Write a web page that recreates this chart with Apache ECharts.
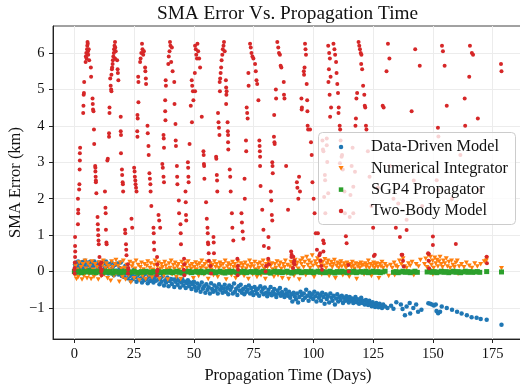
<!DOCTYPE html>
<html>
<head>
<meta charset="utf-8">
<script src="https://cdn.jsdelivr.net/npm/echarts@6/dist/echarts.min.js"></script>
<style>html,body{margin:0;padding:0;background:#fff;}#c{width:520px;height:390px;}</style>
</head>
<body>
<div id="c"></div>
<script>
const chartTitle = 'SMA Error Vs. Propagation Time';
const xName = 'Propagation Time (Days)';
const yName = 'SMA Error (km)';
const seriesNames = ['Data-Driven Model', 'Numerical Integrator', 'SGP4 Propagator', 'Two-Body Model'];
const xTicks = [0, 25, 50, 75, 100, 125, 150, 175];
const yTicks = [-1, 0, 1, 2, 3, 4, 5, 6];

const dataDriven = [
[0.1,0.05],[0.3,0.2],[0.5,0.12],[0.8,0.25],[1.0,0.02],[1.3,0.18],[1.6,0.28],[1.9,0.1],[2.2,0.22],[2.6,-0.02],[3.0,0.15],[3.3,0.26],[3.7,0.08],[4.1,0.2],[4.5,0.3],[4.9,0.12],[5.3,0.24],[5.8,0.05],[6.2,0.18],[6.6,0.27],[7.0,0.1],[7.5,0.22],[8.0,0.15],[8.4,0.28],[8.9,0.03],[9.3,0.2],[9.8,0.12],
[10.3,0.25],[10.8,0.08],[11.3,0.18],[11.8,-0.02],[12.3,0.22],[12.8,0.1],[13.2,0.28],[13.7,0.15],[14.2,-0.05],[14.6,0.2],[15.1,0.05],[15.6,0.24],[16.0,0.12],[16.5,-0.1],[17.0,0.18],[17.5,0.02],[18.0,0.22],[18.4,-0.08],[18.9,0.1],[19.4,0.25],[19.8,-0.12],[20.3,0.05],[20.8,-0.15],[21.3,0.15],[21.7,-0.05],
[22.2,-0.18],[22.7,0.02],[23.2,-0.12],[23.6,-0.25],[24.1,-0.08],[24.6,-0.2],[25.0,0.05],[25.5,-0.15],[26.0,-0.28],[26.4,-0.1],[26.9,-0.22],[27.4,-0.02],[27.9,-0.18],[28.3,-0.3],[28.8,-0.12],[29.3,-0.24],[29.8,-0.06],[30.2,-0.2],[30.7,-0.32],[31.2,-0.14],[31.7,-0.26],[32.1,-0.08],[32.6,-0.2],[33.1,-0.3],[33.6,-0.15],[34.1,-0.25],
[34.6,-0.1],[35.1,-0.22],[35.6,-0.35],[36.0,-0.18],[36.5,-0.28],[37.0,-0.12],[37.5,-0.38],[38.0,-0.24],[38.4,-0.3],[38.9,-0.16],[39.4,-0.4],[39.9,-0.26],[40.3,-0.2],[40.8,-0.34],[41.3,-0.22],[41.8,-0.42],[42.3,-0.28],[42.7,-0.18],[43.2,-0.36],[43.7,-0.25],[44.2,-0.44],[44.7,-0.3],[45.1,-0.2],[45.6,-0.38],[46.1,-0.27],[46.6,-0.45],[47.1,-0.32],[47.5,-0.24],[48.0,-0.4],[48.5,-0.3],[49.0,-0.48],[49.5,-0.35],
[50.0,-0.28],[50.4,-0.42],[50.9,-0.52],[51.4,-0.33],[51.9,-0.45],[52.4,-0.38],[52.8,-0.55],[53.3,-0.3],[53.8,-0.47],[54.3,-0.4],[54.8,-0.58],[55.2,-0.35],[55.7,-0.5],[56.2,-0.43],[56.7,-0.6],[57.2,-0.32],[57.6,-0.48],[58.1,-0.55],[58.6,-0.38],[59.1,-0.52],[59.6,-0.44],[60.0,-0.6],[60.5,-0.35],[61.0,-0.5],[61.5,-0.42],[62.0,-0.58],[62.4,-0.47],[62.9,-0.36],[63.4,-0.55],
[63.9,-0.45],[64.4,-0.62],[64.8,-0.38],[65.3,-0.5],[65.8,-0.42],[66.3,-0.6],[66.8,-0.33],[67.2,-0.55],[67.7,-0.47],[68.2,-0.64],[68.7,-0.4],[69.2,-0.52],[69.6,-0.36],[70.1,-0.58],[70.6,-0.48],[71.1,-0.62],[71.6,-0.42],[72.0,-0.55],[72.5,-0.5],[73.0,-0.38],[73.5,-0.6],[74.0,-0.45],[74.4,-0.56],[74.9,-0.64],[75.4,-0.42],[75.9,-0.52],[76.4,-0.6],[76.8,-0.47],[77.3,-0.66],[77.8,-0.4],
[78.3,-0.55],[78.8,-0.48],[79.2,-0.62],[79.7,-0.44],[80.2,-0.58],[80.7,-0.68],[81.2,-0.5],[81.6,-0.6],[82.1,-0.42],[82.6,-0.65],[83.1,-0.55],[83.6,-0.48],[84.0,-0.62],[84.5,-0.7],[85.0,-0.52],[85.5,-0.6],[86.0,-0.45],[86.4,-0.66],[86.9,-0.56],[87.4,-0.62],[87.9,-0.7],[88.4,-0.5],[88.8,-0.6],[89.3,-0.66],
[89.8,-0.55],[90.3,-0.72],[90.8,-0.62],[91.2,-0.82],[91.7,-0.58],[92.2,-0.68],[92.7,-0.76],[93.2,-0.6],[93.6,-0.85],[94.1,-0.7],[94.6,-0.55],[95.1,-0.64],[95.6,-0.78],[96.0,-0.6],[96.5,-0.72],[97.0,-0.5],[97.5,-0.66],[98.0,-0.8],[98.4,-0.58],[98.9,-0.7],[99.4,-0.62],[99.9,-0.75],[100.4,-0.55],[100.8,-0.68],[101.3,-0.82],[101.8,-0.6],[102.3,-0.72],
[102.8,-0.65],[103.2,-0.8],[103.7,-0.58],[104.2,-0.7],[104.7,-0.88],[105.2,-0.62],[105.6,-0.75],[106.1,-0.68],[106.6,-0.85],[107.1,-0.6],[107.6,-0.72],[108.0,-0.8],[108.5,-0.66],[109.0,-0.9],[109.5,-0.74],[110.0,-0.62],[110.4,-0.82],[110.9,-0.7],[111.4,-0.78],[111.9,-0.66],[112.4,-0.86],[112.8,-0.72],[113.3,-0.8],[113.8,-0.68],[114.3,-0.76],[114.8,-0.85],[115.2,-0.7],[115.7,-0.8],[116.2,-0.74],[116.7,-0.86],[117.2,-0.78],[117.6,-0.7],[118.1,-0.84],[118.6,-0.76],[119.1,-0.88],[119.6,-0.8],[120.0,-0.72],[120.5,-0.86],[121.0,-0.8],[121.5,-0.9],
[122.0,-0.78],[122.4,-0.85],[122.9,-0.92],[123.4,-0.8],[123.9,-0.88],[124.4,-0.95],[124.8,-0.84],[125.3,-0.9],[125.8,-0.97],[126.3,-0.86],[126.8,-0.93],[127.2,-0.98],[127.7,-0.88],[128.2,-0.95],[128.7,-1.0],[129.2,-0.9],[130.0,-0.96],[131.0,-1.0],[132.5,-0.94],[133.5,-1.02],
[134.7,-0.84],[136.6,-0.9],[137.3,-1.03],[138.3,-1.2],[139.0,-0.96],[140.3,-0.86],[140.5,-1.15],[141.8,-1.0],[143.0,-0.9],[143.8,-1.1],[145.2,-1.05],
[148.1,-0.87],[148.9,-0.88],[149.6,-0.9],[150.4,-0.93],[151.2,-0.9],[151.5,-1.08],[152.2,-1.14],[153.0,-1.1],[153.7,-0.96],[155.8,-1.0],[158.0,-1.05],[160.1,-1.1],[162.0,-1.15],[164.2,-1.2],[166.2,-1.25],[168.3,-1.27],[170.0,-1.3],[172.5,-1.32],[178.7,-1.46]
];

const numerical = [
[0.2,-0.1],[0.5,0.15],[0.9,-0.2],[1.2,0.05],[1.6,-0.15],[2.0,0.25],[2.4,-0.05],[2.8,0.12],[3.2,-0.22],[3.6,0.2],[4.0,-0.12],[4.5,0.3],[4.9,0.08],[5.3,-0.18],[5.7,0.22],[6.1,-0.08],[6.5,0.15],[7.0,-0.2],[7.4,0.28],[7.8,0.05],[8.2,-0.14],[8.7,0.2],[9.1,-0.06],[9.5,0.12],[10.0,-0.22],[10.4,0.25],[10.8,0.02],[11.3,-0.12],[11.7,0.18],[12.1,0.3],[12.6,-0.08],[13.0,0.1],[13.4,0.22],[13.9,-0.18],[14.3,0.15],
[14.8,0.05],[15.2,-0.25],[15.6,0.28],[16.1,0.12],[16.5,-0.12],[17.0,0.2],[17.4,0.32],[17.9,-0.05],[18.3,0.15],[18.8,-0.28],[19.2,0.24],[19.6,0.08],[20.1,-0.15],[20.5,0.3],[21.0,0.1],[21.4,-0.22],[21.9,0.18],[22.3,0.04],[22.7,-0.1],[23.2,0.26],[23.6,-0.3],[24.1,0.14],[24.5,0.22],[25.0,-0.18],[25.4,0.08],[25.8,0.3],[26.3,-0.08],[26.7,0.18],[27.2,-0.24],[27.6,0.12],[28.1,0.24],[28.5,-0.12],[28.9,0.06],[29.4,0.2],
[29.8,-0.2],[30.3,0.15],[30.7,0.28],[31.2,-0.1],[31.6,0.1],[32.0,0.22],[32.5,-0.16],[32.9,0.05],[33.4,0.18],[33.8,0.3],[34.3,-0.06],[34.7,0.14],[35.2,0.24],[35.6,-0.2],[36.0,0.08],[36.5,0.2],[36.9,0.12],[37.4,-0.12],[37.8,0.26],[38.3,0.16],[38.7,0.06],[39.1,-0.22],[39.6,0.22],[40.0,0.1],[40.5,0.3],[40.9,-0.08],[41.4,0.18],[41.8,0.08],[42.2,0.24],[42.7,-0.15],[43.1,0.14],[43.6,0.2],[44.0,0.05],[44.5,-0.2],[44.9,0.26],[45.3,0.12],[45.8,0.18],[46.2,-0.1],[46.7,0.22],[47.1,0.1],[47.6,0.28],[48.0,-0.05],[48.4,0.16],[48.9,0.08],[49.3,0.2],[49.8,-0.18],[50.2,0.12],[50.7,0.25],[51.1,0.06],[51.5,0.18],[52.0,-0.12],[52.4,0.22],[52.9,0.1],[53.3,0.3],[53.8,0.14],[54.2,-0.08],[54.6,0.2],[55.1,0.08],[55.5,0.26],[56.0,-0.2],[56.4,0.14],[56.9,0.22],[57.3,0.05],[57.8,0.18],[58.2,-0.1],[58.6,0.28],[59.1,0.12],
[59.5,0.2],[60.0,-0.15],[60.4,0.1],[60.9,0.24],[61.3,0.16],[61.7,-0.05],[62.2,0.2],[62.6,0.08],[63.1,0.3],[63.5,-0.22],[64.0,0.14],[64.4,0.22],[64.8,0.06],[65.3,0.18],[65.7,-0.1],[66.2,0.26],[66.6,0.12],[67.1,0.2],[67.5,-0.18],[67.9,0.1],[68.4,0.28],[68.8,0.15],[69.3,-0.06],[69.7,0.22],[70.2,0.1],[70.6,0.18],[71.0,-0.12],[71.5,0.24],[71.9,0.08],[72.4,0.16],[72.8,-0.2],[73.3,0.3],[73.7,0.12],[74.1,0.2],[74.6,-0.08],[75.0,0.14],[75.5,0.26],[75.9,0.06],[76.4,-0.15],[76.8,0.2],[77.2,0.1],[77.7,0.24],[78.1,-0.1],[78.6,0.16],[79.0,0.3],[79.5,0.08],[79.9,-0.2],[80.3,0.2],[80.8,0.12],[81.2,0.26],[81.7,-0.05],[82.1,0.15],[82.6,0.22],[83.0,0.06],[83.5,-0.14],[83.9,0.2],[84.3,0.1],[84.8,0.28],[85.2,-0.1],[85.7,0.16],[86.1,0.24],[86.6,0.08],[87.0,-0.18],[87.4,0.2],[87.9,0.12],[88.3,0.3],[88.8,-0.06],[89.2,0.18],
[89.7,-0.2],[90.1,0.14],[90.6,0.26],[91.0,0.1],[91.5,0.2],[91.9,-0.12],[92.4,0.32],[92.8,0.16],[93.3,0.24],[93.7,0.08],[94.1,-0.22],[94.6,0.3],[95.0,0.2],[95.5,0.36],[95.9,0.12],[96.4,0.26],[96.8,-0.1],[97.2,0.4],[97.7,0.18],[98.1,0.3],[98.6,0.1],[99.0,0.24],[99.5,0.44],[99.9,0.16],[100.3,-0.15],[100.8,0.28],[101.2,0.2],[101.7,0.36],[102.1,0.12],[102.6,0.3],[103.0,0.22],[103.5,-0.08],[103.9,0.26],[104.4,0.16],[104.8,0.34],[105.3,0.1],[105.7,0.22],[106.1,0.3],[106.6,-0.12],[107.0,0.18],[107.5,0.26],[107.9,0.12],[108.4,0.2],[108.8,0.32],[109.2,-0.18],[109.7,0.16],[110.1,0.24],[110.6,0.1],[111.0,0.2],[111.5,0.28],[111.9,0.14],[112.3,-0.1],[112.8,0.22],[113.2,0.16],[113.7,0.1],[114.1,0.24],[114.6,0.18],[115.0,-0.14],[115.5,0.2],[115.9,0.12],[116.3,0.26],[116.8,0.16],[117.2,0.08],[117.7,0.22],[118.1,-0.2],[118.6,0.14],[119.0,0.2],[119.4,0.1],[119.9,0.24],[120.3,0.16],[120.8,0.18],[121.2,-0.08],[121.7,0.22],[122.1,0.12],[122.5,0.18],[123.0,0.3],[123.4,0.1],[123.9,0.2],[124.3,-0.12],[124.8,0.16],[125.2,0.24],[125.6,0.1],[126.1,0.18],[126.5,0.22],[127.0,0.12],[127.4,-0.18],[127.8,0.2],[128.3,0.14],[128.7,0.26],[129.2,0.1],
[130.0,0.2],[130.8,0.14],[131.5,-0.12],[132.3,0.18],[133.0,0.1],[133.8,0.24],[134.0,-0.1],[134.5,0.16],[135.2,0.12],[136.0,0.3],[136.8,0.2],[137.5,0.36],[138.2,0.14],[139.0,0.1],[139.8,0.22],[140.5,0.16],[141.3,0.26],[142.0,-0.1],[143.0,0.2],[144.0,0.14],[144.8,0.32],
[146.5,0.2],[147.0,0.35],[147.5,0.12],[148.0,0.45],[148.5,0.26],[149.0,0.4],[149.4,0.18],[149.9,0.3],[150.0,-0.08],[150.3,0.1],[150.8,0.38],[151.2,0.22],[151.7,0.32],[152.1,0.14],[152.6,0.28],[153.0,0.4],[153.5,0.2],[154.0,0.12],[154.4,0.3],[155.0,0.22],[155.6,0.36],[156.1,0.14],[156.7,0.26],[157.2,0.1],[157.8,0.3],[158.4,0.18],[159.0,0.12],[159.6,0.24],[160.2,0.3],[160.5,-0.06],[161.0,0.14],
[162.0,0.2],[163.0,0.12],[164.0,0.24],[165.2,0.16],[166.3,0.1],[167.5,0.22],[168.6,0.14],[170.0,0.2],[171.5,0.28],[172.3,0.3],[172.5,0.36],[178.7,0.09]
];

const sgp4 = [
[0,0],[1,-0.02],[2,0.01],[3,-0.03],[4,0],[5,-0.01],[6,0.02],[7,-0.02],[8,0],[9,-0.03],[10,0.01],[11,-0.01],[12,-0.03],[13,0.01],[14,-0.02],[15,0],[16,-0.04],[17,0.01],[18,-0.01],[19,-0.03],[20,0],[21,-0.02],[22,0.01],[23,-0.03],[24,-0.01],[25,0.01],[26,-0.02],[27,-0.04],[28,0],[29,-0.02],[30,0.01],[31,-0.01],[32,-0.03],[33,0],[34,-0.02],[35,0.01],[36,-0.03],[37,-0.01],[38,0],[39,-0.02],[40,0.01],[41,-0.03],[42,-0.01],[43,0.01],[44,-0.02],[45,-0.04],[46,0],[47,-0.01],[48,0.01],[49,-0.03],[50,-0.01],[51,0],[52,-0.02],[53,0.01],[54,-0.03],[55,-0.01],[56,0.01],[57,-0.02],[58,0],[59,-0.03],[60,-0.01],[61,0.01],[62,-0.02],[63,-0.04],[64,0],[65,-0.02],[66,0.01],[67,-0.01],[68,-0.03],[69,0],[70,-0.02],[71,0.01],[72,-0.03],[73,-0.01],[74,0],[75,-0.02],[76,0.01],[77,-0.03],[78,-0.01],[79,0.01],[80,-0.02],[81,0],[82,-0.04],[83,-0.01],[84,0.01],[85,-0.02],[86,0],[87,-0.03],[88,-0.01],[89,0.01],[90,-0.02],[91,-0.04],[92,0],[93,-0.01],[94,0.01],[95,-0.03],[96,-0.01],[97,0],[98,-0.02],[99,0.01],[100,-0.03],[101,-0.01],[102,0.01],[103,-0.02],[104,0],[105,-0.03],[106,-0.01],[107,0.01],[108,-0.02],[109,-0.04],[110,0],[111,-0.02],[112,0.01],[113,-0.01],[114,-0.03],[115,0],[116,-0.02],[117,0.01],[118,-0.03],[119,-0.01],[120,0],[121,-0.02],[122,0.01],[123,-0.03],[124,-0.01],[125,0.01],[126,-0.02],[127,0],[128,-0.03],[129,-0.01],[130,0.01],
[133.5,-0.02],[134.5,0],[135.5,-0.03],[136.5,-0.01],[137.5,0.01],[138.5,-0.02],[139.5,0],[140.5,-0.03],[141.5,-0.01],[142.5,0.01],[143.5,-0.02],
[147.6,-0.01],[148.6,0.01],[149.6,-0.02],[150.6,0],[151.6,-0.03],[152.6,-0.01],[153.6,0.01],[154.6,-0.02],[155.6,0],[156.6,-0.03],[157.6,-0.01],[158.6,0.01],[159.6,-0.02],[160.6,0],[161.6,-0.03],[162.6,-0.01],[163.6,0.01],[164.6,-0.02],[165.6,0],[166.6,-0.02],[167.6,-0.01],[168.6,0],[169.6,-0.02],[172.5,0],[178.7,-0.01]
];

const twoBody = [
[0.1,0.1],[0.2,0.25],[0.3,0.4],[0.35,0.55],[0.3,0.7],[0.3,0.95],[1.5,1.3],[1.6,1.6],[1.6,1.7],[1.5,2.0],[2.0,2.25],[2.1,2.4],[2.2,2.8],[2.3,3.05],[2.3,3.25],[2.4,3.4],[3.7,4.35],[3.8,4.55],[3.9,4.85],[4.0,4.9],[4.1,5.2],[4.7,5.75],[4.8,5.9],[5.0,6.0],[5.1,5.85],[5.3,6.1],[5.4,6.2],[5.5,6.3],[5.6,6.25],[5.7,6.05],[5.8,5.95],[6.0,6.1],[6.2,5.8],[6.9,5.6],[7.0,5.35],[7.6,4.75],[7.7,4.6],[7.8,4.45],[8.0,4.4],[8.2,3.9],[8.3,3.5],[8.7,2.9],[8.8,2.85],[8.8,2.75],[8.9,2.6],[9.0,2.5],[9.0,2.45],[9.2,2.15],[9.7,1.5],[9.8,1.3],[9.9,1.15],[10.0,1.0],[10.1,0.85],[10.2,0.75],[10.5,0.4],[10.7,0.2],[11.0,0.1],
[11.3,0.25],[11.5,0.05],[12.8,2.2],[13.0,1.75],[13.1,1.6],[13.2,1.15],[13.4,0.8],[13.5,0.75],[13.8,3.05],[14.0,3.1],[14.5,3.8],[14.5,3.7],[14.7,4.5],[14.7,4.35],[15.0,5.3],[15.2,5.1],[15.4,5.0],[15.5,4.95],[15.5,5.4],[15.7,5.55],[15.8,5.6],[16.0,5.7],[16.1,5.8],[16.3,5.9],[16.5,6.0],[16.6,6.1],[16.8,6.2],[17.0,6.3],[17.1,6.15],[17.3,6.05],[17.0,5.85],[17.9,5.8],[18.1,5.55],[18.2,5.45],[18.4,5.25],[19.4,4.25],[19.4,3.85],[19.5,3.75],[19.5,3.25],[19.9,2.8],[20.0,2.65],[20.2,2.45],[20.3,2.4],[20.4,2.2],[21.2,1.15],[21.3,1.05],[21.6,0.75],[21.7,0.6],[21.8,0.45],[22.4,0.2],[22.5,0.05],
[23.9,1.45],[24.2,1.2],[25.0,2.85],[25.2,2.75],[25.3,2.6],[25.5,2.5],[25.6,2.4],[25.8,2.3],[26.0,2.2],[26.3,3.85],[26.4,3.7],[26.4,4.3],[26.5,4.2],[26.7,5.35],[26.8,5.2],[26.8,4.65],[27.5,5.75],[27.7,5.85],[28.0,6.0],[28.3,6.25],[28.5,6.1],[28.8,5.95],[29.1,6.05],[29.6,5.6],[29.7,5.5],[29.9,5.3],[30.0,5.15],[30.6,4.0],[30.7,3.8],[31.0,3.45],[31.1,3.2],[31.4,2.7],[31.6,2.55],[31.8,2.4],[31.9,2.2],[32.2,1.8],[33.1,1.2],[33.2,1.05],[33.3,0.8],[33.4,0.6],[34.6,0.4],[34.7,0.2],[34.8,0.05],
[35.2,1.55],[35.5,1.4],[35.9,1.2],[36.8,2.95],[37.0,2.85],[37.3,2.6],[37.5,2.45],[37.3,3.75],[37.4,3.65],[37.5,3.4],[38.0,4.7],[38.0,4.4],[38.1,4.15],[38.2,5.25],[38.3,5.1],[39.3,5.7],[39.5,5.9],[39.8,6.05],[40.0,6.3],[40.2,6.2],[40.5,5.75],[40.8,6.15],[41.1,5.5],[41.8,5.2],[41.9,4.6],[42.3,4.05],[42.4,3.6],[42.5,3.45],[42.9,2.9],[43.0,2.6],[43.1,2.4],[43.7,1.95],[43.8,1.6],[44.4,1.3],[44.5,1.05],[44.6,0.75],[45.9,0.35],[46.0,0.2],
[46.5,2.2],[46.6,1.9],[46.7,1.55],[46.8,1.4],[47.5,3.0],[47.6,2.85],[47.7,2.6],[47.8,2.45],[48.2,3.5],[48.7,4.55],[49.2,4.1],[49.1,5.25],[49.3,5.1],[49.6,4.95],[49.8,4.7],[50.5,6.2],[50.8,6.1],[51.0,5.95],[51.3,5.85],[51.5,6.25],[51.8,6.05],[52.2,5.85],[52.6,5.6],[50.4,5.45],[50.5,4.95],[53.3,4.25],[54.0,3.3],[54.1,3.2],[54.2,2.95],[54.3,2.9],[54.4,2.55],[55.1,1.9],[55.4,1.45],[55.7,1.2],[55.8,1.05],[55.9,0.8],[56.0,0.75],[56.2,0.5],[56.3,0.3],[58.2,0.95],[58.3,0.8],[58.4,0.5],
[59.3,3.15],[59.4,3.1],[59.6,2.65],[59.7,2.5],[59.8,2.2],[60.1,4.35],[60.3,4.1],[60.5,3.95],[60.7,3.75],[60.8,5.2],[60.9,4.95],[61.0,5.3],[61.2,5.45],[61.4,5.6],[61.6,5.8],[61.9,5.95],[62.1,6.1],[62.4,6.2],[62.6,6.3],[62.9,6.05],[63.4,5.25],[63.5,5.05],[63.6,4.85],[63.5,4.6],[63.7,4.95],[64.1,4.1],[64.2,3.85],[64.3,3.75],[64.3,3.55],[64.4,3.35],[65.0,2.8],[65.2,2.6],[65.4,2.2],[65.9,1.6],[66.1,1.2],[66.5,0.85],[68.2,0.35],[68.4,0.15],
[69.9,1.6],[70.1,1.35],[70.4,1.1],[70.7,0.9],[71.2,2.55],[71.3,2.0],[71.8,3.6],[71.9,3.3],[72.1,4.5],[72.3,4.35],[72.5,4.2],[72.8,5.45],[72.9,5.1],[73.5,6.25],[73.8,6.15],[74.1,6.0],[74.5,5.9],[74.9,5.85],[75.6,5.7],[75.9,5.5],[76.2,5.25],[76.5,5.15],[77.0,4.7],[77.4,3.6],[77.5,3.45],[77.6,3.3],[77.7,3.15],[77.7,2.9],[77.9,2.35],[78.6,1.7],[79.1,1.15],[79.3,0.7],[81.2,0.95],[81.3,0.65],[81.1,0.35],[81.4,0.2],
[82.2,2.2],[82.4,1.95],[82.6,1.55],[82.8,1.4],[82.8,3.0],[82.9,2.9],[83.0,2.7],[83.6,4.3],[83.5,3.7],[83.7,3.55],[83.8,3.5],[84.3,5.0],[84.4,4.75],[84.9,6.3],[85.3,6.15],[85.6,6.0],[86.0,5.95],[86.3,5.65],[86.6,5.6],[87.6,5.2],[87.7,4.85],[87.9,4.75],[88.6,2.9],[89.4,1.7],[90.7,0.55],[90.8,0.4],[90.9,0.46],[92.0,0.3],[92.1,0.2],
[93.1,2.45],[93.3,2.3],[93.7,2.0],[94.0,2.6],[94.4,2.2],[95.0,4.75],[95.1,4.45],[95.2,4.5],[96.0,5.5],[96.1,5.4],[96.3,5.6],[96.5,6.25],[96.7,6.1],[96.9,5.95],[97.2,5.15],[97.5,4.4],[97.6,4.0],[97.8,3.9],[97.4,4.7],[98.6,3.9],[99.0,3.55],[99.3,3.2],[99.6,2.45],[100.1,2.0],[100.5,1.6],[101.0,1.05],[101.5,0.6],[101.9,1.05],[104.1,0.85],[104.2,0.55],[104.4,0.78],[102.8,0.5],
[103.8,3.6],[104.0,3.35],[104.2,3.3],[104.8,2.65],[104.5,2.05],[105.0,1.6],[105.6,3.65],[105.6,3.47],[105.8,3.01],[104.9,2.51],[106.2,2.15],[106.2,6.2],[106.6,6.0],[106.9,5.85],[106.5,5.55],[107.2,5.35],[106.3,5.2],[106.8,4.85],[107.4,4.5],[107.0,4.25],[108.4,6.25],[108.8,6.1],[109.1,5.95],[109.5,5.75],[109.7,5.45],[110.0,5.15],[110.3,4.9],[110.6,4.5],[110.5,4.35],[111.0,4.0],[111.2,3.9],[111.4,3.6],[111.8,3.15],[111.1,2.97],[112.0,3.2],[112.3,2.8],[113.0,2.2],[113.2,1.6],[113.6,0.97],[113.9,0.78],
[115.2,1.5],[115.5,2.1],[116.0,2.9],[116.4,3.4],[117.4,2.74],[116.7,2.33],[116.7,1.6],[117.6,4.0],[117.8,4.2],[118.0,4.75],[118.3,4.9],[118.9,6.3],[119.2,6.2],[119.5,6.1],[119.8,6.0],[120.1,5.95],[120.0,5.7],[120.4,5.55],[120.8,5.1],[121.3,4.85],[121.5,4.55],[121.7,4.5],[122.0,4.0],[122.2,3.9],[122.8,3.3],[123.5,2.6],[124.3,1.8],[125.0,1.2],[125.3,0.43],
[127.0,2.3],[129.0,4.55],[129.4,4.5],[130.6,5.5],[131.2,6.25],[131.8,5.85],[132.0,2.9],[133.5,2.0],[134.5,1.2],[135.5,1.87],[136.2,0.95],[136.9,0.46],[139.0,1.14],[139.0,1.42],
[141.1,4.4],[142.6,6.1],[144.5,5.65],[142.0,2.5],[145.5,1.8],[148.3,0.48],[150.0,0.96],[150.0,0.73],[151.6,2.51],[152.2,2.24],[152.1,3.95],[152.3,3.71],[153.8,6.2],[154.2,6.05],[154.9,5.65],[155.8,4.55],[158.0,2.0],[159.6,0.76],
[161.5,3.2],[163.3,4.75],[163.5,4.0],[165.2,5.35],[165.5,6.2],[166.3,6.0],[166.8,5.95],[168.8,4.2],[169.7,2.24],[172.5,0.41],[178.5,5.7],[178.7,5.5],
[0.0,0.05],[0.1,-0.05],[11.2,0.0],[11.4,-0.1],[22.4,-0.05],[22.6,0.1],[34.5,-0.1],[34.6,0.0],[45.8,0.05],[46.0,-0.1],[57.0,0.15],[57.2,-0.05],[68.3,-0.1],[68.5,0.05],[80.0,0.0],[80.2,0.15],[91.6,0.41],[91.8,0.25],[91.5,0.1],[102.5,0.45],[103.0,0.3],[103.3,0.15],[103.6,0.05],[114.6,0.18],[114.8,0.0],[125.7,0.46],[137.2,0.46],[137.5,0.3],[137.8,0.14],[148.0,0.5],[148.2,0.3],[148.4,0.09],[172.6,0.23]
];

const FONT = "'Liberation Serif', 'Times New Roman', serif";
const TRI = 'path://M0,0L10,0L5,8.66Z';
const SQR = 'path://M0,0L10,0L10,10L0,10Z';
const chart = echarts.init(document.getElementById('c'), null, {renderer: 'canvas'});
const minusFmt = v => (v < 0 ? '\u2212' + Math.abs(v) : String(v));

const option = {
  animation: false,
  graphic: [
    {
      type: 'text', x: 287.5, y: 14, z: 10,
      style: { text: chartTitle, font: "19.3px 'Liberation Serif', serif", fill: '#111', textAlign: 'center', textVerticalAlign: 'middle' }
    },
    {
      type: 'rect', z: 3, silent: true,
      shape: { x: 318.5, y: 132.5, width: 197, height: 92, r: 4 },
      style: { fill: 'rgba(255,255,255,0.8)', stroke: '#cccccc', lineWidth: 1 }
    }
  ],
  grid: { left: 53, right: -3, top: 26, bottom: 51, outerBoundsMode: 'none', containLabel: false, show: true, borderColor: '#444', borderWidth: 1, backgroundColor: 'transparent' },
  xAxis: {
    type: 'value', min: -8.94, max: 187.7,
    name: xName, nameLocation: 'middle', nameGap: 28, nameMoveOverlap: false,
    nameTextStyle: { fontFamily: FONT, fontSize: 16.5, color: '#111' },
    axisLine: { show: true, onZero: false, lineStyle: { color: '#222', width: 1 } },
    axisTick: { show: true, length: 4, inside: false, customValues: xTicks, lineStyle: { color: '#222' } },
    axisLabel: { customValues: xTicks, margin: 8, fontFamily: FONT, fontSize: 14.5, color: '#111', formatter: minusFmt },
    splitLine: { show: true, lineStyle: { color: '#ececec', width: 1 } }
  },
  yAxis: {
    type: 'value', min: -1.85, max: 6.74,
    name: yName, nameLocation: 'middle', nameGap: 29, nameRotate: 90, nameMoveOverlap: false,
    nameTextStyle: { fontFamily: FONT, fontSize: 16.5, color: '#111' },
    axisLine: { show: true, onZero: false, lineStyle: { color: '#222', width: 1 } },
    axisTick: { show: true, length: 4, inside: false, customValues: yTicks, lineStyle: { color: '#222' } },
    axisLabel: { customValues: yTicks, margin: 8.5, fontFamily: FONT, fontSize: 14.5, color: '#111', formatter: minusFmt },
    splitLine: { show: true, lineStyle: { color: '#ececec', width: 1 } }
  },
  legend: {
    orient: 'vertical', right: 5, top: 132, z: 5,
    padding: [7, 7, 5, 8], itemWidth: 30, itemHeight: 4.5, itemGap: 5.3,
    backgroundColor: 'transparent', borderWidth: 0,
    textStyle: { fontFamily: FONT, fontSize: 16.3, color: '#111', lineHeight: 16, padding: [0, 0, 0, 10] },
    data: [
      { name: seriesNames[0], icon: 'circle' },
      { name: seriesNames[1], icon: TRI },
      { name: seriesNames[2], icon: SQR },
      { name: seriesNames[3], icon: 'circle' }
    ]
  },
  series: [
    { name: seriesNames[0], type: 'scatter', data: dataDriven, symbol: 'circle', symbolSize: 4.5, itemStyle: { color: '#1f77b4', opacity: 1 } },
    { name: seriesNames[1], type: 'scatter', data: numerical, symbol: TRI, symbolSize: [5, 4.5], itemStyle: { color: '#ff7f0e', opacity: 1 } },
    { name: seriesNames[2], type: 'scatter', data: sgp4, symbol: SQR, symbolSize: 5, itemStyle: { color: '#2ca02c', opacity: 1 } },
    { name: seriesNames[3], type: 'scatter', data: twoBody, symbol: 'circle', symbolSize: 4, itemStyle: { color: '#d62728', opacity: 1 } }
  ]
};
chart.setOption(option);
</script>
</body>
</html>
